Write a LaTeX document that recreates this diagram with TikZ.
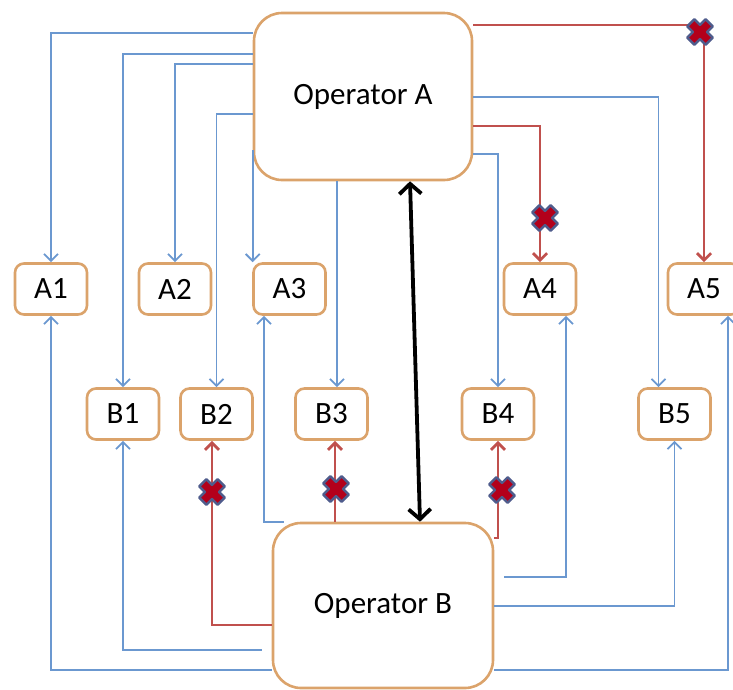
\documentclass[tikz,border=0pt]{standalone}
\usepackage{fontspec}
\setmainfont{Carlito}
\usetikzlibrary{arrows.meta}
\definecolor{boxc}{HTML}{DBA36B}
\definecolor{bluec}{HTML}{6B98D0}
\definecolor{redc}{HTML}{C0504D}
\definecolor{xfill}{HTML}{B3001B}
\definecolor{xedge}{HTML}{4F5C8C}
\begin{document}
\begin{tikzpicture}[x=1pt,y=-1pt,
  big/.style={draw=boxc, line width=2.6pt, fill=white, rounded corners=28pt,
    minimum width=218pt, minimum height=167pt, inner sep=0pt,
    font=\fontsize{31}{33}\selectfont},
  small/.style={draw=boxc, line width=2.6pt, fill=white, rounded corners=9pt,
    minimum width=72pt, minimum height=51pt, inner sep=0pt,
    font=\fontsize{31}{33}\selectfont},
  bl/.style={draw=bluec, line width=1.8pt, -{Straight Barb[length=7pt,width=14pt]}},
  rd/.style={draw=redc, line width=2.8pt, -{Straight Barb[length=7pt,width=14pt]}},
  bk/.style={draw=black, line width=3.8pt, {Straight Barb[length=10pt,width=22pt]}-{Straight Barb[length=10pt,width=22pt]}},
  xmark/.pic={\filldraw[fill=xfill,draw=xedge,line width=2.4pt,line join=round,rotate=45]
    (-5,-13)--(5,-13)--(5,-5)--(13,-5)--(13,5)--(5,5)--(5,13)--(-5,13)--(-5,5)--(-13,5)--(-13,-5)--(-5,-5)--cycle;}
]
\useasboundingbox (0,0) rectangle (733,689);
\clip (0,0) rectangle (733,689);

% nodes
\node[big] (opA) at (363,96.5) {Operator A};
\node[big, minimum width=220pt, minimum height=165pt] (opB) at (383,605.5) {Operator B};
\node[small] (A1) at (51,289) {A1};
\node[small] (A2) at (175,289) {A2};
\node[small] (A3) at (289.5,289) {A3};
\node[small] (A4) at (540,289) {A4};
\node[small] (A5) at (704,289) {A5};
\node[small] (B1) at (123,414) {B1};
\node[small] (B2) at (216.5,414) {B2};
\node[small] (B3) at (331.5,414) {B3};
\node[small] (B4) at (498,414) {B4};
\node[small] (B5) at (674.5,414) {B5};

% helper coordinates
\coordinate (b3top) at ([xshift=5.5pt]B3.north);
\coordinate (b3bot) at ([xshift=3.5pt]B3.south);
\coordinate (c13) at ([xshift=-10pt]opB.west);
\coordinate (c17) at ([xshift=10pt]opB.east);

% connectors from Operator A
\draw[bl] (opA.west |- 0,33) -| (A1.north);
\draw[bl] (opA.west |- 0,54) -| (B1.north);
\draw[bl] (opA.west |- 0,64) -| (A2.north);
\draw[bl] (opA.west |- 0,114) -| (B2.north);
\draw[bl] (opA.west |- 0,150) -- (opA.west |- A3.north);
\draw[bl] (b3top |- opA.south) -- (b3top);
\draw[rd] (opA.east |- 0,25) -| (A5.north);
\draw[bl] (opA.east |- 0,97) -| ([xshift=-16pt]B5.north);
\draw[rd] (opA.east |- 0,126) -| (A4.north);
\draw[bl] (opA.east |- 0,154) -| (B4.north);

% connectors from Operator B
\draw[bl] ([xshift=12pt]opB.north west) -| ([xshift=-25.5pt]A3.south);
\draw[rd] (opB.west |- 0,625) -| ([xshift=-4.5pt]B2.south);
\draw[bl] (c13 |- 0,650) -| (B1.south);
\draw[bl] (opB.west |- 0,670) -| (A1.south);
\draw[rd] (b3bot |- opB.north) -- (b3bot);
\draw[rd] (opB.east |- 0,538) -| (B4.south);
\draw[bl] (c17 |- 0,577) -| ([xshift=26pt]A4.south);
\draw[bl] (opB.east |- 0,606) -| (B5.south);
\draw[bl] (opB.east |- 0,670) -| ([xshift=24pt]A5.south);

% link between operators
\draw[bk] ([xshift=47pt]opA.south) -- ([xshift=37pt]opB.north);

% blocked markers
\pic at (700,32) {xmark};
\pic at (545,218) {xmark};
\pic at (212,492) {xmark};
\pic at (336,489) {xmark};
\pic at (502,490) {xmark};
\end{tikzpicture}
\end{document}
